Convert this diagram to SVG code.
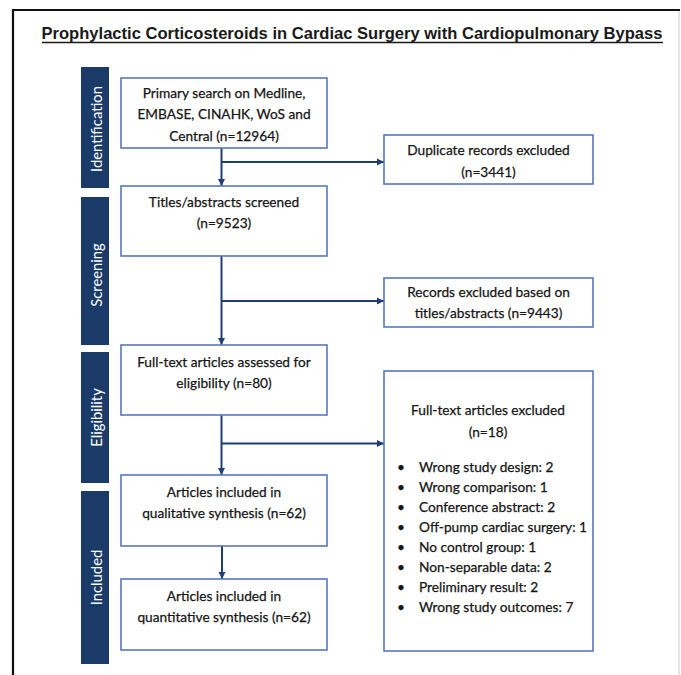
<svg xmlns="http://www.w3.org/2000/svg" width="681" height="675" viewBox="0 0 681 675">
<style>
.bar{fill:#1a3a68}
.bt{fill:#ffffff;font-family:Lato,"Open Sans",sans-serif;font-size:14.8px;text-anchor:middle}
.box{fill:#ffffff;stroke:#5577c0;stroke-width:1.6}
.t{fill:#151515;stroke:#151515;stroke-width:0.25;font-family:Lato,"Noto Sans",sans-serif;font-size:13.7px;text-anchor:middle}
.l{fill:#151515;stroke:#151515;stroke-width:0.25;font-family:Lato,"Noto Sans",sans-serif;font-size:13.7px}
.c{fill:none;stroke:#1f3f70;stroke-width:2}
</style>
<defs>
<marker id="ah" markerWidth="8" markerHeight="8" refX="7" refY="4" orient="auto" markerUnits="userSpaceOnUse">
<path d="M0,0.5 L7,4 L0,7.5 Z" fill="#1f3f70"/>
</marker>
</defs>
<rect x="0" y="0" width="681" height="675" fill="#ffffff"/>
<g id="frame">
<line x1="12" y1="10" x2="680" y2="10" stroke="#111111" stroke-width="2.2"/>
<line x1="13" y1="9" x2="13" y2="675" stroke="#111111" stroke-width="2.2"/>
<line x1="679" y1="11" x2="679" y2="675" stroke="#cccccc" stroke-width="1"/>
</g>
<g id="title">
<text x="352" y="38.5" font-family="'Liberation Sans',Arial,sans-serif" font-weight="bold" font-size="16.5" text-anchor="middle" fill="#1a1a1a" textLength="621" lengthAdjust="spacingAndGlyphs">Prophylactic Corticosteroids in Cardiac Surgery with Cardiopulmonary Bypass</text>
<line x1="42" y1="42.5" x2="663" y2="42.5" stroke="#1a1a1a" stroke-width="1.4"/>
</g>
<g id="bar-identification">
<rect class="bar" x="81" y="67" width="28" height="121"/>
<text class="bt" transform="translate(102,129) rotate(-90)">Identification</text>
</g>
<g id="bar-screening">
<rect class="bar" x="81" y="197" width="28" height="148"/>
<text class="bt" transform="translate(102,275) rotate(-90)">Screening</text>
</g>
<g id="bar-eligibility">
<rect class="bar" x="81" y="352" width="28" height="131"/>
<text class="bt" transform="translate(102,417.5) rotate(-90)">Eligibility</text>
</g>
<g id="bar-included">
<rect class="bar" x="81" y="491" width="28" height="173"/>
<text class="bt" transform="translate(102,577.5) rotate(-90)">Included</text>
</g>
<g id="connectors">
<line class="c" x1="221.5" y1="148" x2="221.5" y2="186" marker-end="url(#ah)"/>
<line class="c" x1="221.5" y1="162" x2="384" y2="162" marker-end="url(#ah)"/>
<line class="c" x1="221.5" y1="256" x2="221.5" y2="345" marker-end="url(#ah)"/>
<line class="c" x1="221.5" y1="301" x2="384" y2="301" marker-end="url(#ah)"/>
<line class="c" x1="221.5" y1="415" x2="221.5" y2="475" marker-end="url(#ah)"/>
<line class="c" x1="221.5" y1="443.5" x2="384" y2="443.5" marker-end="url(#ah)"/>
<line class="c" x1="222" y1="546" x2="222" y2="579" marker-end="url(#ah)"/>
</g>
<g id="primary-search">
<rect class="box" x="121" y="78" width="206" height="70"/>
<text class="t" x="224" y="97.5">Primary search on Medline,</text>
<text class="t" x="224" y="119.3">EMBASE, CINAHK, WoS and</text>
<text class="t" x="224" y="141">Central (n=12964)</text>
</g>
<g id="duplicates">
<rect class="box" x="384" y="135" width="209" height="49"/>
<text class="t" x="488.5" y="155">Duplicate records excluded</text>
<text class="t" x="488.5" y="176.5">(n=3441)</text>
</g>
<g id="screened">
<rect class="box" x="121" y="186" width="206" height="70"/>
<text class="t" x="224" y="207.3">Titles/abstracts screened</text>
<text class="t" x="224" y="228.3">(n=9523)</text>
</g>
<g id="records-excluded">
<rect class="box" x="384" y="278" width="209" height="49"/>
<text class="t" x="488.5" y="297.3">Records excluded based on</text>
<text class="t" x="488.5" y="318.3">titles/abstracts (n=9443)</text>
</g>
<g id="fulltext-assessed">
<rect class="box" x="121" y="345" width="206" height="70"/>
<text class="t" x="224" y="366.7">Full-text articles assessed for</text>
<text class="t" x="224" y="387.7">eligibility (n=80)</text>
</g>
<g id="fulltext-excluded">
<rect class="box" x="384" y="371" width="209" height="280"/>
<text class="t" x="488" y="415">Full-text articles excluded</text>
<text class="t" x="488" y="437">(n=18)</text>
<text class="l" x="397" y="472">•</text><text class="l" x="419" y="472">Wrong study design: 2</text>
<text class="l" x="397" y="492">•</text><text class="l" x="419" y="492">Wrong comparison: 1</text>
<text class="l" x="397" y="512">•</text><text class="l" x="419" y="512">Conference abstract: 2</text>
<text class="l" x="397" y="532">•</text><text class="l" x="419" y="532">Off-pump cardiac surgery: 1</text>
<text class="l" x="397" y="552">•</text><text class="l" x="419" y="552">No control group: 1</text>
<text class="l" x="397" y="572">•</text><text class="l" x="419" y="572">Non-separable data: 2</text>
<text class="l" x="397" y="592">•</text><text class="l" x="419" y="592">Preliminary result: 2</text>
<text class="l" x="397" y="612">•</text><text class="l" x="419" y="612">Wrong study outcomes: 7</text>
</g>
<g id="qualitative">
<rect class="box" x="121" y="475" width="206" height="71"/>
<text class="t" x="224" y="496.7">Articles included in</text>
<text class="t" x="224" y="517.7">qualitative synthesis (n=62)</text>
</g>
<g id="quantitative">
<rect class="box" x="121" y="579" width="206" height="71"/>
<text class="t" x="224" y="600.7">Articles included in</text>
<text class="t" x="224" y="621.7">quantitative synthesis (n=62)</text>
</g>
</svg>
